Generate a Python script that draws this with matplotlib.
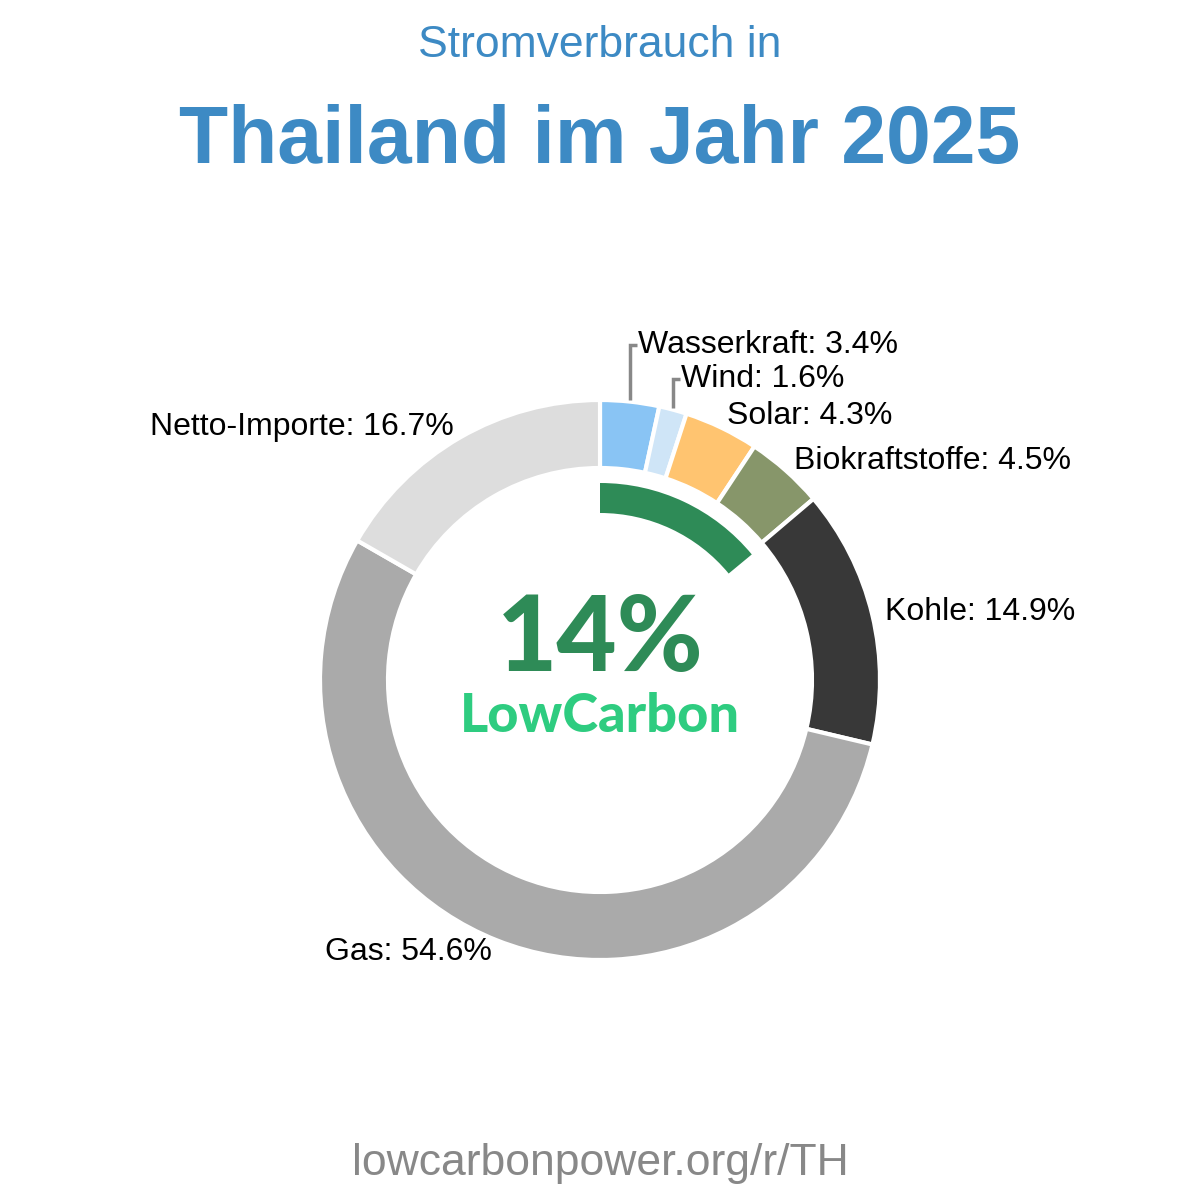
import matplotlib.pyplot as plt
from matplotlib.patches import Wedge
import numpy as np

labels = ['Wasserkraft', 'Wind', 'Solar', 'Biokraftstoffe', 'Kohle', 'Gas', 'Netto-Importe']
values = [3.4, 1.6, 4.3, 4.5, 14.9, 54.6, 16.7]
colors = ['#89c4f4', '#cfe5f7', '#ffc470', '#87966a', '#383838', '#aaaaaa', '#dddddd']
low_carbon = 14

title_top = 'Stromverbrauch in'
title_main = 'Thailand im Jahr 2025'
footer = 'lowcarbonpower.org/r/TH'

plt.rcParams['font.family'] = ['Liberation Sans', 'DejaVu Sans']

fig = plt.figure(figsize=(12, 12), dpi=100)
ax = fig.add_axes([0, 0, 1, 1])

cx, cy = 600, 520
R = 280
ring = 68

ax.pie(values, radius=R, center=(cx, cy), startangle=90, counterclock=False,
       colors=colors, wedgeprops=dict(width=ring, edgecolor='white', linewidth=3))

# inner green arc for the low-carbon share
ax.add_patch(Wedge((cx, cy), 197, 90 - low_carbon * 3.6, 90, width=30,
                   facecolor='#2e8b57', edgecolor='none'))

# labels around the ring
cum = np.cumsum([0] + values)
mids = 90 - (cum[:-1] + np.array(values) / 2) * 3.6
# small wedges at the top get leader lines to labels lifted above
lifted = {'Wasserkraft': 1.195, 'Wind': 1.075}
for name, v, ang in zip(labels, values, mids):
    a = np.radians(ang)
    txt = f'{name}: {v}%'
    if name in lifted:
        x0 = cx + R * np.cos(a)
        y0 = cy + R * np.sin(a)
        ly = cy + R * lifted[name]
        ax.plot([x0, x0, x0 + 7], [y0 + 2, ly, ly], color='#888888', lw=2.5,
                solid_capstyle='butt', solid_joinstyle='miter')
        ax.text(x0 + 8, ly, txt, fontsize=23, ha='left', va='center')
        continue
    r = R * 1.045
    x = cx + r * np.cos(a)
    y = cy + r * np.sin(a)
    ha = 'left' if np.cos(a) > 0 else 'right'
    ax.text(x, y, txt, fontsize=23, ha=ha, va='center')

ax.text(600, 1143, title_top, fontsize=32, color='#3d8ac4', ha='center', va='baseline')
ax.text(600, 1037, title_main, fontsize=58, color='#3d8ac4', fontweight='bold',
        ha='center', va='baseline')

ax.text(600, 559, f'{low_carbon}%', fontsize=75, color='#2e8b57', fontweight='black',
        family=['Lato', 'DejaVu Sans'], ha='center', va='center')
ax.text(600, 484, 'LowCarbon', fontsize=39, color='#2ecc80', fontweight='black',
        family=['Lato', 'DejaVu Sans'], ha='center', va='center')

ax.text(600, 37, footer, fontsize=32, color='#888888', ha='center', va='center')

ax.set_xlim(0, 1200)
ax.set_ylim(0, 1200)
ax.set_aspect('equal')
ax.axis('off')

fig.savefig('out.png', dpi=100, facecolor='white')
